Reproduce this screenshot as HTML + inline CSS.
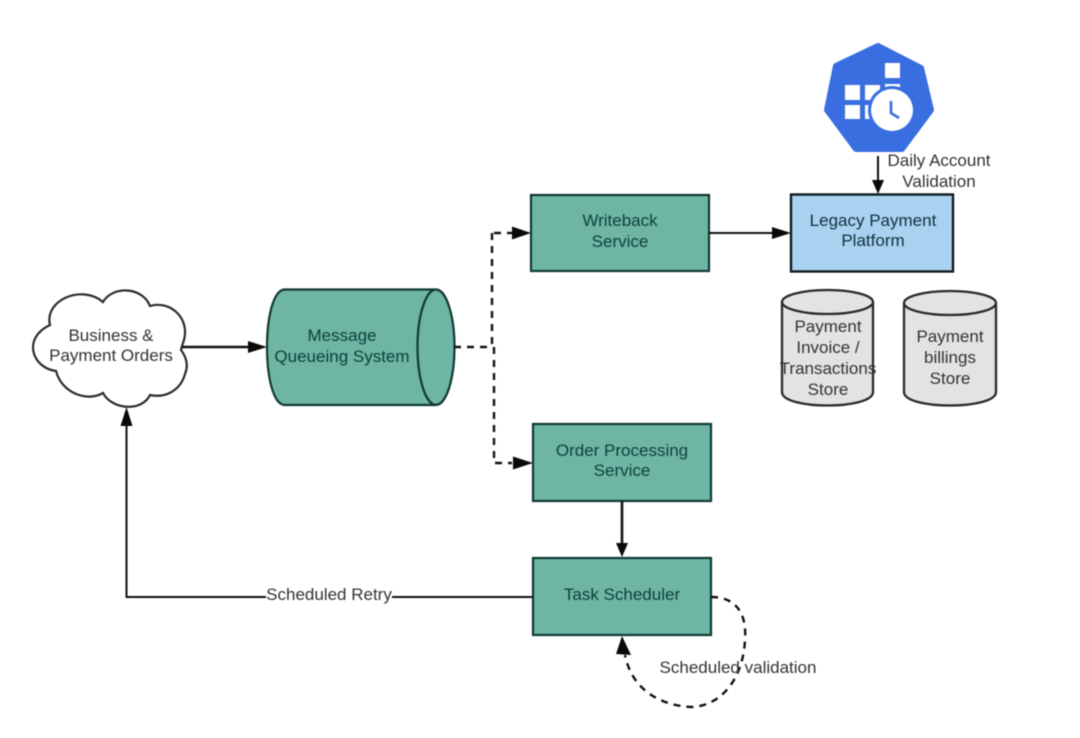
<!DOCTYPE html>
<html>
<head>
<meta charset="utf-8">
<style>
html,body{margin:0;padding:0;background:#fff;width:1080px;height:738px;overflow:hidden}
svg{display:block;filter:blur(0.6px)}
text{font-family:"Liberation Sans",sans-serif;font-size:17px;text-anchor:middle;fill:#333}
.t{fill:#0c423a}
.b{fill:#12303f}
.box{fill:#6fb5a4;stroke:#0f3a33;stroke-width:2.2}
.gray{fill:#e3e3e3;stroke:#2a2a2a;stroke-width:2.3}
.ln{fill:none;stroke:#111;stroke-width:2}
.ln2{fill:none;stroke:#111;stroke-width:2.6}
.ds{fill:none;stroke:#111;stroke-width:2.4;stroke-dasharray:7 6}
.h{fill:#0a0a0a}
</style>
</head>
<body>
<svg width="1080" height="738" viewBox="0 0 1080 738" xmlns="http://www.w3.org/2000/svg">
<rect width="1080" height="738" fill="#fff"/>

<!-- Kubernetes icon -->
<polygon points="878,46 921,68 931,110 902,149 856,149 827,110 836,66" fill="#386ee0" stroke="#386ee0" stroke-width="6" stroke-linejoin="round"/>
<g fill="#fff">
<rect x="885" y="63" width="15" height="15"/>
<rect x="845" y="85" width="15" height="15"/>
<rect x="865" y="85" width="15" height="15"/>
<rect x="885" y="84" width="15" height="14"/>
<rect x="845" y="105" width="15" height="14"/>
<rect x="865" y="105" width="15" height="14"/>
</g>
<circle cx="892" cy="110" r="24" fill="#386ee0"/>
<circle cx="892" cy="110" r="21" fill="#fff"/>
<polyline points="891,101 891,113 899,118" fill="none" stroke="#386ee0" stroke-width="2.600"/>

<!-- Daily arrow -->
<line x1="878" y1="156" x2="878" y2="182" class="ln"/>
<polygon points="872,180 884,180 878,194" class="h"/>
<text x="939" y="166">Daily Account</text>
<text x="939" y="187">Validation</text>

<!-- Legacy -->
<rect x="791" y="194.500" width="162" height="77" fill="#a9d2f0" stroke="#0e1a22" stroke-width="2.400"/>
<text x="873" y="226" class="b">Legacy Payment</text>
<text x="873" y="246" class="b">Platform</text>

<!-- Writeback -->
<rect x="531" y="195" width="178" height="76" class="box"/>
<text x="620" y="226" class="t">Writeback</text>
<text x="620" y="247" class="t">Service</text>
<line x1="709" y1="233" x2="778" y2="233" class="ln"/>
<polygon points="772,227 772,239 791,233" class="h"/>

<!-- Stores -->
<path d="M782,302 V392 C782,410 873,410 873,392 V302" class="gray"/>
<ellipse cx="827.500" cy="302" rx="45.500" ry="12" class="gray"/>
<text x="828" y="332">Payment</text>
<text x="828" y="353">Invoice /</text>
<text x="828" y="374">Transactions</text>
<text x="828" y="395">Store</text>

<path d="M904,303 V392 C904,410 996,410 996,392 V303" class="gray"/>
<ellipse cx="950" cy="303" rx="46" ry="12" class="gray"/>
<text x="950" y="342">Payment</text>
<text x="950" y="363">billings</text>
<text x="950" y="384">Store</text>

<!-- Cloud -->
<path d="M103,302 C112,286 142,286 150,306 C170,300 190,318 184,340 Q182,346 181,350 Q190,362 185,374 C180,392 164,398 150,395 C142,412 112,410 103,393 C88,402 62,394 56,371 C32,368 22,338 50,325 C44,300 82,284 103,302 Z" fill="#fff" stroke="#2c2c2c" stroke-width="2.200"/>
<text x="111" y="341">Business &amp;</text>
<text x="111" y="361">Payment Orders</text>

<line x1="182" y1="347" x2="252" y2="347" class="ln2"/>
<polygon points="248,341 248,353 267,347" class="h"/>

<!-- Message Queue -->
<path d="M285,289.500 H435 C460,289.500 460,405 435,405 H285 C261,405 261,289.500 285,289.500 Z" class="box"/>
<ellipse cx="436" cy="347.200" rx="18.500" ry="57.700" class="box"/>
<text x="342" y="341" class="t">Message</text>
<text x="342" y="362" class="t">Queueing System</text>

<!-- Dashed branches -->
<line x1="454" y1="347" x2="492" y2="347" class="ds"/>
<polyline points="492,233 492,347" class="ds"/>
<polyline points="494,347 494,463 512,463" class="ds"/>
<polyline points="494,233 512,233" class="ds"/>
<polygon points="512,226.500 512,239.500 531,233" class="h"/>
<polygon points="513,456.500 513,469.500 533,463" class="h"/>

<!-- Order Processing -->
<rect x="533" y="424" width="178" height="77" class="box"/>
<text x="622" y="456" class="t">Order Processing</text>
<text x="622" y="476" class="t">Service</text>
<line x1="622" y1="501" x2="622" y2="545" class="ln2"/>
<polygon points="616,543 628,543 622,557" class="h"/>

<!-- Task Scheduler -->
<rect x="533" y="558" width="178" height="77" class="box"/>
<text x="622" y="600" class="t">Task Scheduler</text>

<!-- Scheduled retry -->
<polyline points="533,597 126.500,597 126.500,425" class="ln"/>
<polygon points="120.500,426 132.500,426 126.500,407" class="h"/>
<rect x="266" y="587" width="126" height="18" fill="#fff"/>
<text x="329" y="600">Scheduled Retry</text>

<!-- Validation loop -->
<path d="M711,597 C735,597 747,612 745,640 C743,680 720,707 690,707 C660,705 632,690 625,655" class="ds"/>
<polygon points="622,636 616,654 631,655" class="h"/>
<text x="738" y="673">Scheduled validation</text>
</svg>
</body>
</html>
